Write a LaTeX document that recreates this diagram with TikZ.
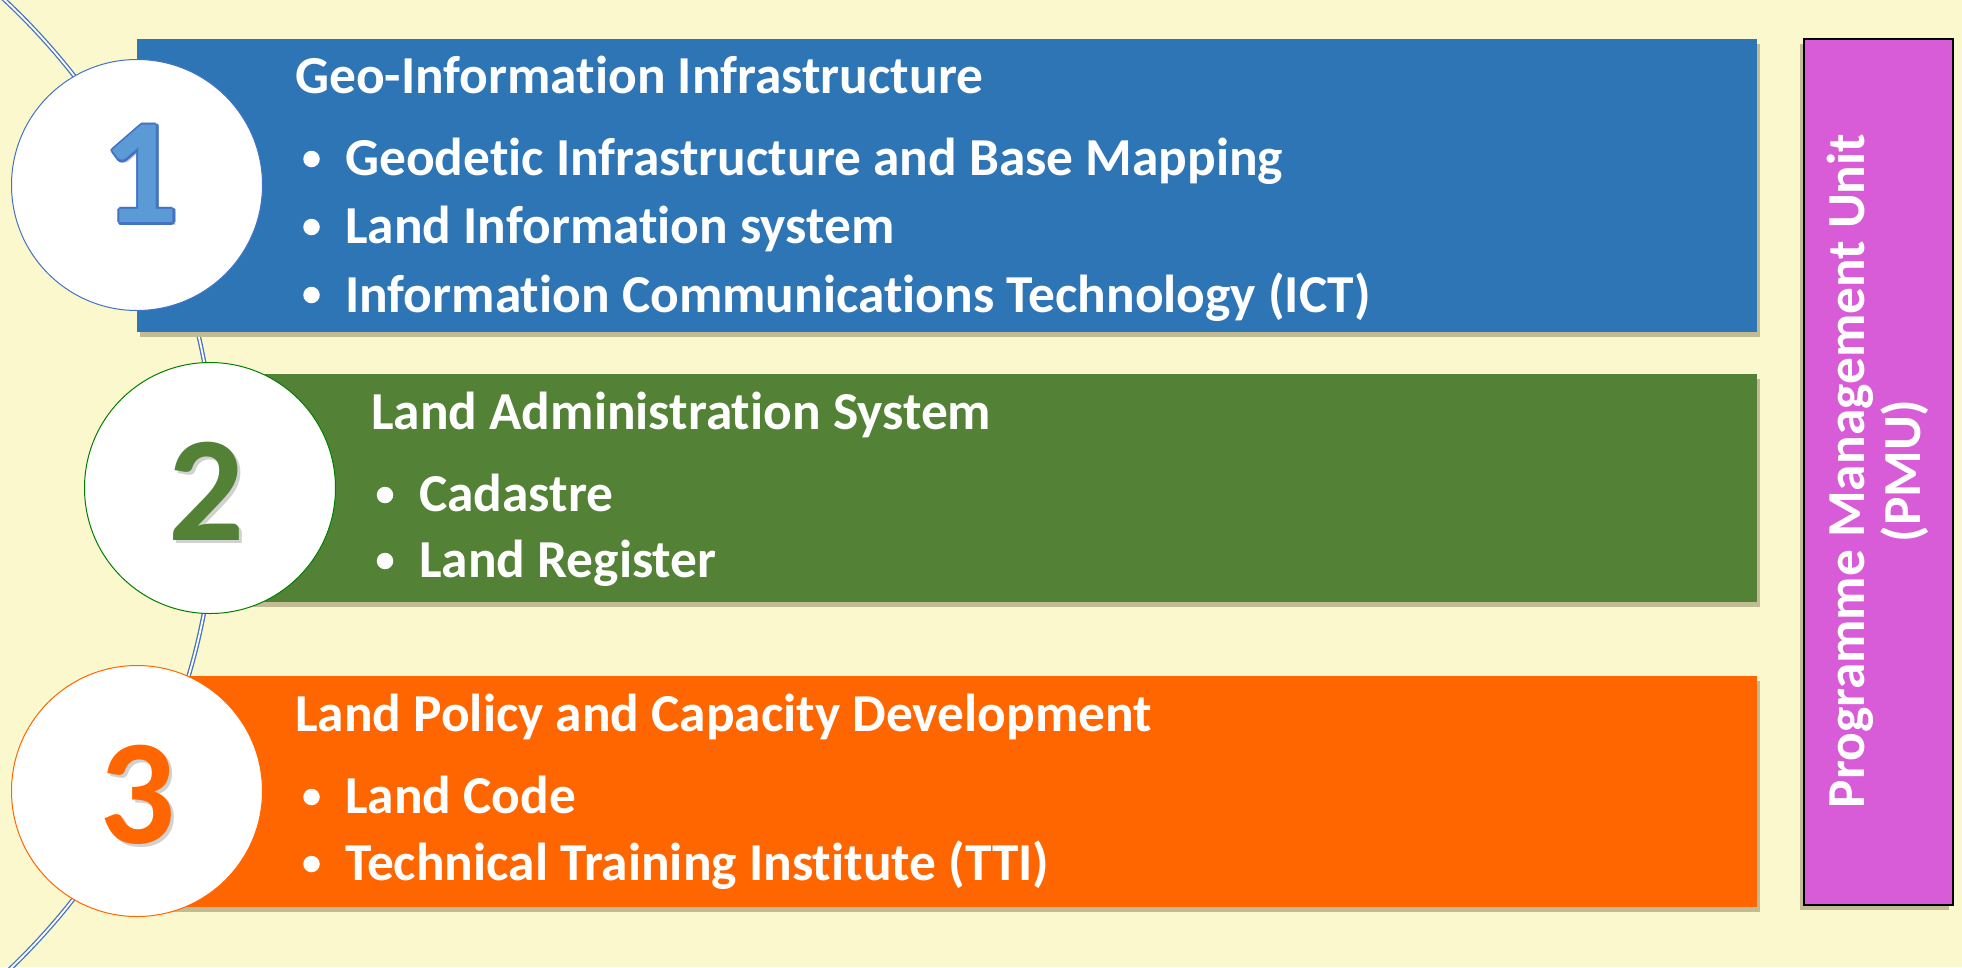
\documentclass[tikz,border=0pt]{standalone}
\usepackage{fontspec}
\setmainfont{Carlito}[Ligatures={NoCommon,NoContextual}]
\usetikzlibrary{shadows,calc}
\definecolor{bgc}{HTML}{FBF8CE}
\definecolor{blueA}{HTML}{2E75B6}
\definecolor{greenA}{HTML}{538135}
\definecolor{orangeA}{HTML}{FF6600}
\definecolor{pmuc}{HTML}{D85CD8}
\definecolor{arcc}{HTML}{4472C4}
\definecolor{oneFill}{HTML}{5B9BD5}
\definecolor{oneLine}{HTML}{4472C4}
\definecolor{greenLine}{HTML}{008000}
\definecolor{shadowc}{HTML}{C2BC94}
\begin{document}
\begin{tikzpicture}[x=1pt,y=-1pt,
  panel/.style={rectangle,inner sep=0pt,outer sep=0pt,anchor=north west,
    drop shadow={shadow xshift=3pt,shadow yshift=-5pt,opacity=1,fill=shadowc}},
  numcircle/.style={circle,fill=white,minimum size=251pt,inner sep=0pt,line width=1pt},
  digit/.style={font=\fontsize{150}{150}\selectfont\bfseries,inner sep=0pt},
  ttl/.style={font=\fontsize{53.4}{60}\selectfont\bfseries,text=white,anchor=base west,inner sep=0pt},
  itm/.style={font=\fontsize{53.4}{60}\selectfont\bfseries,text=white,anchor=base west,inner sep=0pt},
  dot/.style={circle,fill=white,minimum size=16.5pt,inner sep=0pt},
  arcline/.style={draw=arcc,line width=1.3pt,double=white,double distance=1.8pt}]
\useasboundingbox (0,0) rectangle (1962,967);
\fill[bgc] (0,0) rectangle (1962,967);
% arc
\begin{scope}
\clip (0,0) rectangle (1962,967);
\draw[arcline] plot[domain=-50:50,samples=120] ({-451+667*cos(\x)},{487+667*sin(\x)});
\end{scope}
% panels
\node[panel,fill=blueA,minimum width=1620pt,minimum height=293pt] (b1) at (137,39) {};
\node[panel,fill=greenA,minimum width=1547pt,minimum height=228pt] (b2) at (210,374) {};
\node[panel,fill=orangeA,minimum width=1620pt,minimum height=231pt] (b3) at (137,676) {};
\node[rectangle,inner sep=0pt,outer sep=0pt,anchor=north west,fill=pmuc,draw=black,line width=1.5pt,
  minimum width=149pt,minimum height=866pt,
  drop shadow={shadow xshift=-4pt,shadow yshift=-5pt,opacity=1,fill=shadowc}] (pmu) at (1804,39) {};
\node[rotate=90,align=center,text=white,font=\fontsize{53.4}{56}\selectfont\bfseries] (pmut) at (1878,471) {Programme Management Unit\\(PMU)};
% circles
\node[numcircle,draw=oneLine] (c1) at (137,185) {};
\node[numcircle,draw=greenLine] (c2) at (210,488) {};
\node[numcircle,draw=orangeA] (c3) at (137,791) {};
% digits
\node[digit,text=black,opacity=0.18] (d1s) at (144,177) {1};
\foreach \a [count=\i] in {0,45,...,315}
  \node[digit,text=oneLine] (d1o\i) at ($(141,174)+(\a:2.4)$) {1};
\node[digit,text=oneFill] (d1) at (141,174) {1};
\node[digit,text=black,opacity=0.18] (d2s) at (210,494) {2};
\node[digit,text=greenA] (d2) at (207,491) {2};
\node[digit,text=black,opacity=0.18] (d3s) at (141,798) {3};
\node[digit,text=orangeA] (d3) at (138,795) {3};
% texts panel 1
\node[ttl] (t1) at (295,93) {Geo-Information Infrastructure};
\node[dot] (t1b1) at (311.5,159) {};
\node[itm] (t1i1) at (345,175) {Geodetic Infrastructure and Base Mapping};
\node[dot] (t1b2) at (311.5,227) {};
\node[itm] (t1i2) at (345,243) {Land Information system};
\node[dot] (t1b3) at (311.5,295) {};
\node[itm] (t1i3) at (345,312) {Information Communications Technology (ICT)};
% texts panel 2
\node[ttl] (t2) at (371,429) {Land Administration System};
\node[dot] (t2b1) at (385,495) {};
\node[itm] (t2i1) at (419,511) {Cadastre};
\node[dot] (t2b2) at (385,561) {};
\node[itm] (t2i2) at (419,577) {Land Register};
% texts panel 3
\node[ttl] (t3) at (295,731) {Land Policy and Capacity Development};
\node[dot] (t3b1) at (311.5,797) {};
\node[itm] (t3i1) at (345,813) {Land Code};
\node[dot] (t3b2) at (311.5,864) {};
\node[itm] (t3i2) at (345,880) {Technical Training Institute (TTI)};
\end{tikzpicture}
\end{document}
